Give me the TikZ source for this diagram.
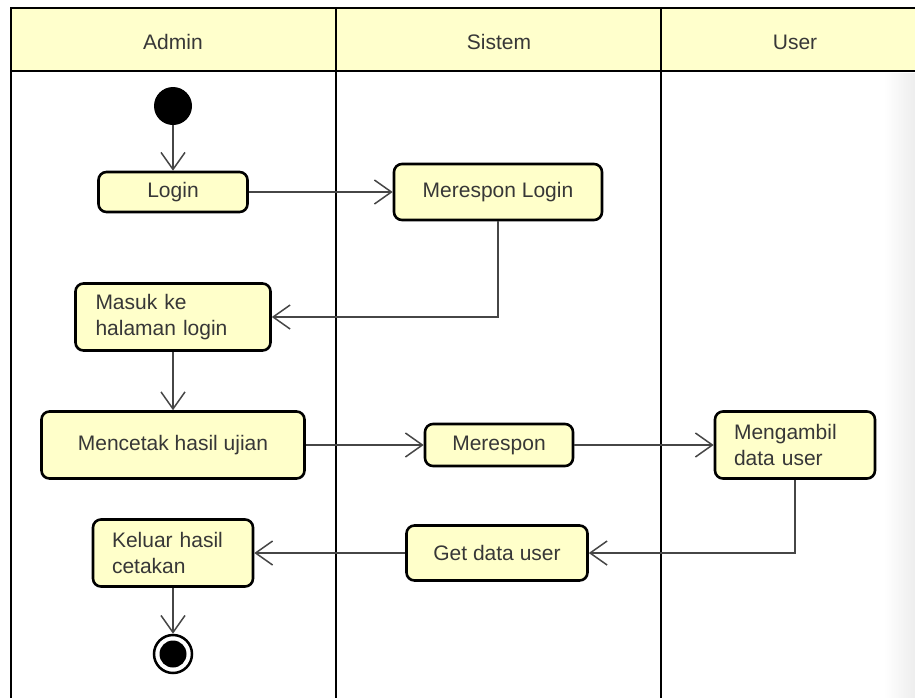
\documentclass[tikz,border=0pt]{standalone}
\usepackage{fontspec}
\setmainfont{Liberation Sans}
\usepackage{xcolor}
\usetikzlibrary{arrows.meta}

\definecolor{laneyellow}{RGB}{255,255,204}
\definecolor{actyellow}{RGB}{255,255,202}
\definecolor{txtgray}{RGB}{55,55,55}
\definecolor{linegray}{RGB}{70,70,70}

\tikzset{
  lane/.style={line width=2.6pt, line cap=rect},
  hdr/.style={text=txtgray, font=\fontsize{21}{26}\selectfont},
  act/.style={draw=black, line width=2.6pt, fill=actyellow, rounded corners=8pt,
    text=txtgray, font=\fontsize{21}{26}\selectfont},
  flow/.style={draw=linegray, line width=1.5pt,
    -{Straight Barb[length=17pt,width=24pt,line width=1.5pt]}}
}

\begin{document}
\begin{tikzpicture}[x=1pt,y=-1pt]
        \useasboundingbox (0,0) rectangle (915,697);
        % swimlanes
        \fill[laneyellow] (11,8) rectangle (915,71);
        \shade[left color=white, right color=black!7] (884,73) rectangle (915,697);
        \draw[lane] (915,8) -- (11,8) -- (11,697);
        \draw[lane] (11,71) -- (915,71);
        \draw[lane] (336,8) -- (336,697);
        \draw[lane] (661,8) -- (661,697);
        \node[hdr] (admin) at (173,42) {Admin};
        \node[hdr] (sistem) at (499,42) {Sistem};
        \node[hdr] (user) at (795,42) {User};

        % activities
        \node[circle, fill=black, minimum size=38pt, inner sep=0pt] (start) at (173,106) {};
        \node[act, minimum width=149pt, minimum height=40pt] (login) at (173,192) {Login};
        \node[act, minimum width=208pt, minimum height=56pt] (resplogin) at (498,192) {Merespon Login};
        \node[act, text width=155pt, inner xsep=20pt, minimum height=67pt, align=left] (masuk) at (173,317) {Masuk ke\\halaman login};
        \node[act, minimum width=263pt, minimum height=67pt] (cetak) at (173,445) {Mencetak hasil ujian};
        \node[act, minimum width=148pt, minimum height=42pt] (respon) at (499,445) {Merespon};
        \node[act, text width=122pt, inner xsep=19pt, minimum height=67pt, align=left] (ambil) at (795,445) {Mengambil\\data user};
        \node[act, minimum width=181pt, minimum height=55pt] (getdata) at (497,553) {Get data user};
        \node[act, text width=122pt, inner xsep=19pt, minimum height=67pt, align=left] (keluar) at (173,553) {Keluar hasil\\cetakan};
        \node[circle, draw=black, line width=2.5pt, fill=white, minimum size=38pt, inner sep=0pt] (end) at (173,654) {};
        \node[circle, fill=black, minimum size=27pt, inner sep=0pt] (endin) at (end) {};

        % flows
        \draw[flow] (start) -- (login);
        \draw[flow] (login) -- (resplogin);
        \draw[flow] (resplogin.south) |- (masuk.east);
        \draw[flow] (masuk) -- (cetak);
        \draw[flow] (cetak) -- (respon);
        \draw[flow] (respon) -- (ambil);
        \draw[flow] (ambil.south) |- (getdata.east);
        \draw[flow] (getdata) -- (keluar);
        \draw[flow] (keluar) -- (end);
\end{tikzpicture}
\end{document}
